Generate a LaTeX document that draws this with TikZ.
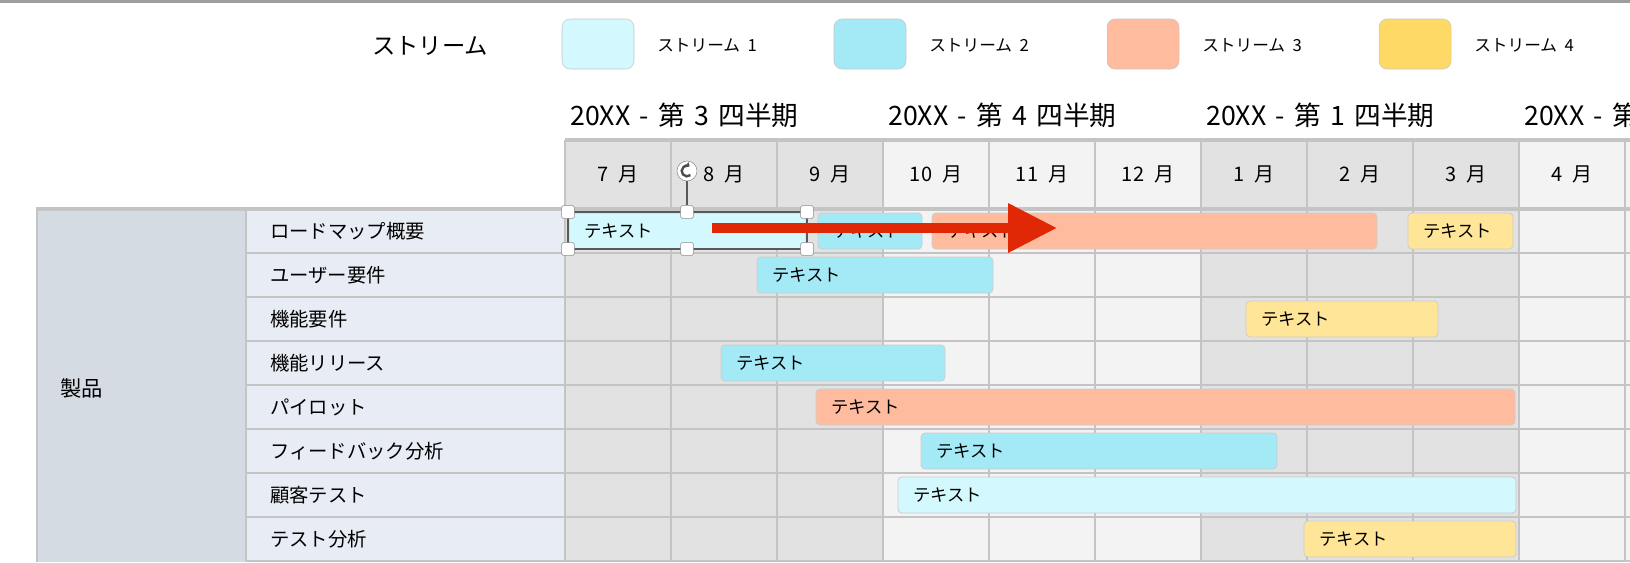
\documentclass[tikz,border=0pt]{standalone}
\usepackage{fontspec}
\setmainfont{Noto Sans CJK JP}
\usetikzlibrary{arrows.meta}
\definecolor{strA}{HTML}{D3F8FD}
\definecolor{strB}{HTML}{A4E9F6}
\definecolor{strC}{HTML}{FEBB9E}
\definecolor{strD}{HTML}{FFD966}
\definecolor{strDbar}{HTML}{FFE598}
\definecolor{cellA}{HTML}{E2E2E2}
\definecolor{cellB}{HTML}{F3F3F3}
\definecolor{gridgray}{HTML}{C4C4C4}
\definecolor{rowlab}{HTML}{E8ECF4}
\definecolor{grplab}{HTML}{D4DBE3}
\definecolor{arrowred}{HTML}{E12806}

\begin{document}
\begin{tikzpicture}[x=0.75pt,y=-0.75pt,
  bar/.style={draw=black!20,line width=0.6pt,rounded corners=3pt},
  bartext/.style={anchor=west,inner sep=0pt,font=\fontsize{13pt}{15pt}\selectfont},
  rowtext/.style={anchor=west,inner sep=0pt,font=\fontsize{14.5pt}{17pt}\selectfont},
  monthtext/.style={inner sep=0pt,font=\fontsize{15pt}{17pt}\selectfont},
  quartertext/.style={anchor=west,inner sep=0pt,font=\fontsize{20pt}{24pt}\selectfont},
  legendbox/.style={draw=black!22,rounded corners=6pt,minimum width=54pt,minimum height=37.5pt,inner sep=0pt},
  legendtext/.style={anchor=west,inner sep=0pt,font=\fontsize{12.5pt}{15pt}\selectfont},
  gridline/.style={draw=gridgray,line width=1.5pt},
  handle/.style={draw=black!45,fill=white,minimum size=9.5pt,inner sep=0pt,rounded corners=1pt}]

\useasboundingbox (0,0) rectangle (1630,562);
\clip (0,0) rectangle (1630,562);

\fill[black!38] (0,0) rectangle (1630,2.5);

\foreach \c/\col in {0/cellA,1/cellA,2/cellA,3/cellB,4/cellB,5/cellB,6/cellA,7/cellA,8/cellA,9/cellB,10/cellB}
  \fill[\col] (565+106*\c,140) rectangle (671+106*\c,562);
\fill[grplab] (36,209) rectangle (246,562);
\fill[rowlab] (246,209) rectangle (565,562);

\foreach \c in {0,...,10} \draw[gridline] (565+106*\c,140) -- (565+106*\c,562);
\foreach \r in {1,...,8} \draw[gridline] (246,209+44*\r) -- (1630,209+44*\r);
\draw[gridline] (246,209) -- (246,562);
\draw[gridline] (37,209) -- (37,562);
\draw[gridgray,line width=3pt] (565,140) -- (1630,140);
\draw[gridgray,line width=3pt] (36,209) -- (1630,209);

\node[font=\fontsize{17.5pt}{20pt}\selectfont] (title) at (430,46) {ストリーム};
\foreach \i/\x/\col in {1/598/strA,2/870/strB,3/1143/strC,4/1415/strD}{
  \node[legendbox,fill=\col] (box\i) at (\x,44) {};
  \node[legendtext] (leg\i) at (\x+59,45) {ストリーム\hspace{0.45em}\i};
}

\foreach \q/\c in {3/0,4/3,1/6}
  \node[quartertext] (qtr\q) at (570+106*\c,115) {20XX\hspace{0.35em}-\hspace{0.35em}第\hspace{0.35em}\q\hspace{0.35em}四半期};
\node[quartertext] (qtr2) at (1524,115) {20XX\hspace{0.35em}-\hspace{0.35em}第};

\foreach \m [count=\c from 0] in {7,8,9,10,11,12,1,2,3,4}
  \node[monthtext] (mon\c) at (618+106*\c,174) {\m\hspace{0.5em}月};

\foreach \t [count=\r] in {ロードマップ概要,ユーザー要件,機能要件,機能リリース,パイロット,フィードバック分析,顧客テスト,テスト分析}
  \node[rowtext] (row\r) at (270,187+44*\r) {\t};
\node[anchor=west,inner sep=0pt,font=\fontsize{16pt}{19pt}\selectfont] (grp) at (60,388) {製品};

\foreach \r/\xa/\xb/\col [count=\i] in {1/569/806/strA,1/818/922/strB,1/932/1377/strC,1/1408/1513/strDbar,
    2/757/993/strB,3/1246/1438/strDbar,4/721/945/strB,5/816/1515/strC,
    6/921/1277/strB,7/898/1516/strA,8/1304/1516/strDbar}{
  \filldraw[bar,fill=\col] (\xa,169+44*\r) rectangle (\xb,205+44*\r);
  \node[bartext] (bar\i) at (\xa+15,187+44*\r) {テキスト};
}

\draw[black!65,line width=1.2pt] (568,212) rectangle (807,249);
\foreach \x/\y [count=\i] in {568/212,687/212,807/212,568/249,687/249,807/249}
  \node[handle] (hd\i) at (\x,\y) {};
\node[circle,draw=black!45,fill=white,minimum size=15pt,inner sep=0pt] (rot) at (687,171) {};
\draw[black!65,line width=1pt] (rot) -- (hd2);
\draw[black!70,line width=1.8pt,-{Triangle[length=2.5pt,width=4.5pt]}] ([shift={(-50:4pt)}]rot.center) arc (-50:-300:4pt);

\coordinate (arrS) at (712,228);
\coordinate (arrE) at (1057,228);
\draw[arrowred,line width=7.5pt,-{Triangle[length=36.75pt,width=35.25pt]}] (arrS) -- (arrE);
\end{tikzpicture}
\end{document}
